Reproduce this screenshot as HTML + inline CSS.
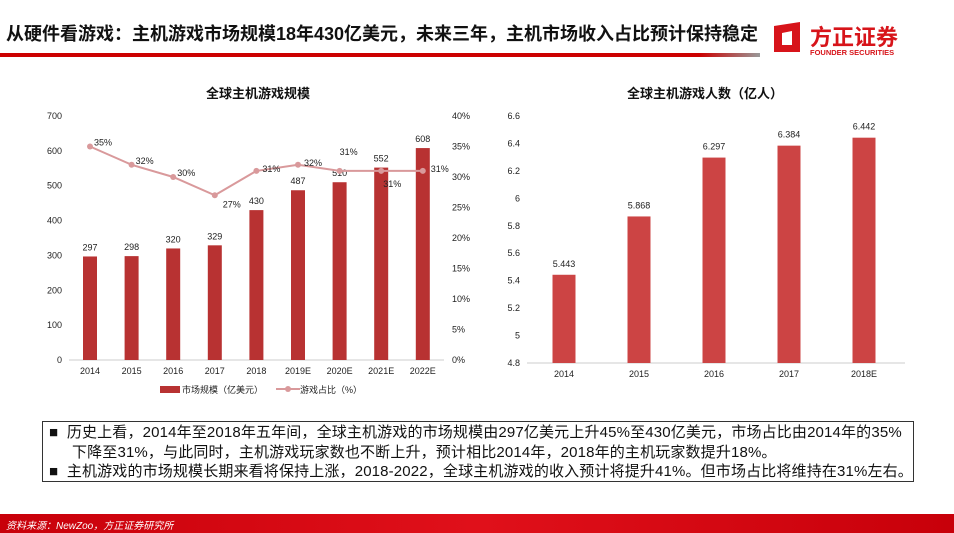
<!DOCTYPE html>
<html><head><meta charset="utf-8">
<style>
body{margin:0;width:954px;height:533px;background:#fff;position:relative;overflow:hidden;font-family:"Liberation Sans","Noto Sans CJK SC",sans-serif;}
.abs{position:absolute;}
</style></head>
<body>
<div class="abs" style="left:6px;top:20px;font-size:18px;font-weight:bold;color:#111;white-space:nowrap;letter-spacing:0px;">从硬件看游戏：主机游戏市场规模18年430亿美元，未来三年，主机市场收入占比预计保持稳定</div>
<div class="abs" style="left:0;top:53px;width:760px;height:4px;background:linear-gradient(90deg,#c00 0,#c00 92%,#999 100%);"></div>
<div class="abs" style="left:770px;top:18px;width:160px;height:42px;">
 <svg width="34" height="36" style="position:absolute;left:0;top:2px"><path d="M4 6 L30 2 L30 32 L4 32 Z M12 13 L12 25 L22 25 L22 11 Z" fill="#d7141a" fill-rule="evenodd"/></svg>
 <div style="position:absolute;left:40px;top:2px;font-size:22px;font-weight:bold;color:#d7141a;white-space:nowrap;">方正证券</div>
 <div style="position:absolute;left:40px;top:30px;font-size:7.5px;font-weight:bold;color:#d7141a;white-space:nowrap;">FOUNDER SECURITIES</div>
</div>
<svg class="abs" style="left:0;top:0" width="954" height="533" id="svg"></svg>
<div class="abs" style="left:42px;top:421px;width:872px;height:61px;border:1px solid #333;font-size:15px;line-height:19.5px;color:#111;padding:1px 0 0 6px;box-sizing:border-box;white-space:nowrap;letter-spacing:0.15px;">
 <div>■&nbsp;&nbsp;历史上看，2014年至2018年五年间，全球主机游戏的市场规模由297亿美元上升45%至430亿美元，市场占比由2014年的35%</div>
 <div style="padding-left:23px;">下降至31%，与此同时，主机游戏玩家数也不断上升，预计相比2014年，2018年的主机玩家数提升18%。</div>
 <div>■&nbsp;&nbsp;主机游戏的市场规模长期来看将保持上涨，2018-2022，全球主机游戏的收入预计将提升41%。但市场占比将维持在31%左右。</div>
</div>
<div class="abs" style="left:0;top:514px;width:954px;height:19px;background:linear-gradient(90deg,#c8000a,#e0101a,#c8000a);"></div>
<div class="abs" style="left:6px;top:517px;font-size:10px;font-style:italic;color:#fff;">资料来源：NewZoo，方正证券研究所</div>
<script>
const cats1=["2014","2015","2016","2017","2018","2019E","2020E","2021E","2022E"];
const size1=[297,298,320,329,430,487,510,552,608];
const share1=[35,32,30,27,31,32,31,31,31];
const leftTicks=[0,100,200,300,400,500,600,700];
const rightTicks=[0,5,10,15,20,25,30,35,40];
const cats2=["2014","2015","2016","2017","2018E"];
const users2=[5.443,5.868,6.297,6.384,6.442];
const ticks2=[4.8,5,5.2,5.4,5.6,5.8,6,6.2,6.4,6.6];
const labels2=["4.8","5","5.2","5.4","5.6","5.8","6","6.2","6.4","6.6"];

const svg=document.getElementById('svg');
const NS='http://www.w3.org/2000/svg';
function mk(tag,attrs,name,txt){const e=document.createElementNS(NS,tag);for(const k in attrs)e.setAttribute(k,attrs[k]);


if(txt!==undefined)e.textContent=txt;svg.appendChild(e);return e;}
const F='Liberation Sans, Noto Sans CJK SC, sans-serif';

// Chart 1
const y1=v=>360-v*(244/700);
const y1r=v=>360-v*(244/40);
const x1=i=>90+i*41.6;
mk('text',{x:258,y:98,'font-size':13,'font-weight':'bold','text-anchor':'middle','font-family':F,fill:'#111'},'chart1-title','全球主机游戏规模');
leftTicks.forEach(t=>mk('text',{x:62,y:y1(t)+3,'font-size':9,'text-anchor':'end','font-family':F,fill:'#222'},'left-y-tick',String(t)));
rightTicks.forEach(t=>mk('text',{x:452,y:y1r(t)+3,'font-size':9,'font-family':F,fill:'#222'},'right-y-tick',t+'%'));
mk('line',{x1:69,x2:444,y1:360,y2:360,stroke:'#ccc','stroke-width':1},'x-axis-line');
cats1.forEach((c,i)=>{
 mk('rect',{x:x1(i)-7,y:y1(size1[i]),width:14,height:360-y1(size1[i]),fill:'#b83232'},'bar-'+c);
 mk('text',{x:x1(i),y:y1(size1[i])-6,'font-size':9,'text-anchor':'middle','font-family':F,fill:'#222'},'bar-value-label',String(size1[i]));
 mk('text',{x:x1(i),y:374,'font-size':9,'text-anchor':'middle','font-family':F,fill:'#222'},'x-tick-label',c);
});
mk('polyline',{points:share1.map((v,i)=>x1(i)+','+y1r(v)).join(' '),fill:'none',stroke:'#d9999b','stroke-width':2},'share-line');
const off=[[4,-1],[4,-1],[4,-1],[8,12],[6,1],[6,1],[0,-16],[2,16],[8,1]];
share1.forEach((v,i)=>{
 mk('circle',{cx:x1(i),cy:y1r(v),r:3,fill:'#d9999b'},'share-point');
 mk('text',{x:x1(i)+off[i][0],y:y1r(v)+off[i][1],'font-size':9,'font-family':F,fill:'#222'},'share-label',v+'%');
});
mk('rect',{x:160,y:386,width:20,height:7,fill:'#b83232'},'legend-bar-swatch');
mk('text',{x:182,y:393,'font-size':9,'font-family':F,fill:'#222'},'legend-bar-label','市场规模（亿美元）');
mk('line',{x1:276,x2:300,y1:389,y2:389,stroke:'#d9999b','stroke-width':2},'legend-line-swatch');
mk('circle',{cx:288,cy:389,r:3,fill:'#d9999b'},'legend-line-marker');
mk('text',{x:300,y:393,'font-size':9,'font-family':F,fill:'#222'},'legend-line-label','游戏占比（%）');

// Chart 2
const y2=v=>363-(v-4.8)*(247/1.8);
const x2=i=>564+i*75;
mk('text',{x:705,y:98,'font-size':13,'font-weight':'bold','text-anchor':'middle','font-family':F,fill:'#111'},'chart2-title','全球主机游戏人数（亿人）');
ticks2.forEach((t,i)=>mk('text',{x:520,y:y2(t)+3,'font-size':9,'text-anchor':'end','font-family':F,fill:'#222'},'y-tick',labels2[i]));
mk('line',{x1:527,x2:905,y1:363,y2:363,stroke:'#ccc','stroke-width':1},'x-axis-line-2');
cats2.forEach((c,i)=>{
 mk('rect',{x:x2(i)-11.5,y:y2(users2[i]),width:23,height:363-y2(users2[i]),fill:'#cc4444'},'users-bar-'+c);
 mk('text',{x:x2(i),y:y2(users2[i])-8,'font-size':9,'text-anchor':'middle','font-family':F,fill:'#222'},'users-value-label',users2[i].toFixed(3));
 mk('text',{x:x2(i),y:377,'font-size':9,'text-anchor':'middle','font-family':F,fill:'#222'},'x-tick-label-2',c);
});
</script>
</body></html>
